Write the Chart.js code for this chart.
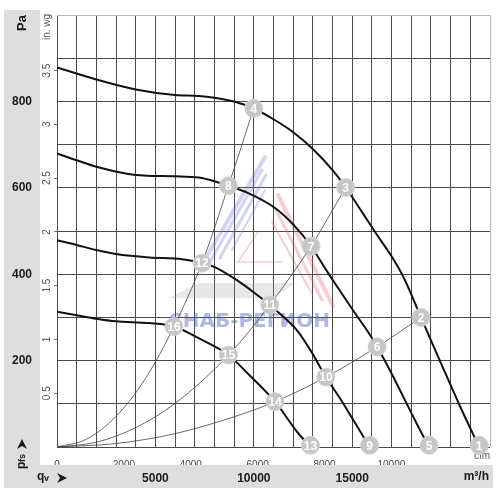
<!DOCTYPE html>
<html>
<head>
<meta charset="utf-8">
<script src="https://cdn.jsdelivr.net/npm/chart.js@4.4.0/dist/chart.umd.min.js"></script>
<style>
body { margin: 0; background: #fff; }
</style>
</head>
<body>
<canvas id="fanChart" width="500" height="500"></canvas>
<script>
// fan curves, air flow in m3/h and static pressure in Pa
var fan1Q = [0, 2000, 4000, 6000, 7200, 8000, 9000, 9995, 11000, 12000, 13000, 14000, 14668, 15600, 16264, 17019, 17608, 18494, 19500, 20500, 21450];
var fan1P = [879, 851, 828, 815, 813, 809, 800, 784, 759, 729, 690, 641, 601, 537, 491, 440, 393, 300, 195, 92, 0];
var fan2Q = [0, 1000, 2000, 4000, 6000, 7200, 8040, 8711, 9718, 11062, 12069, 12906, 13746, 14416, 15171, 15841, 16264, 16934, 17608, 18278, 18900];
var fan2P = [680, 664, 649, 630, 627, 624, 615, 605, 588, 554, 512, 465, 405, 359, 308, 264, 232, 176, 115, 54, 0];
var fan3Q = [0, 1000, 2000, 3000, 4683, 6360, 7367, 8040, 9214, 10055, 10810, 11732, 12236, 12906, 13662, 14416, 15087, 15880];
var fan3P = [479, 468, 456, 447, 439, 435, 426, 416, 384, 356, 329, 292, 268, 222, 162, 110, 60, 0];
var fan4Q = [0, 1000, 2000, 3000, 4683, 5942, 7200, 8711, 9718, 11077, 12236, 12880];
var fan4P = [313, 305, 297, 291, 287, 279, 252, 213, 169, 105, 33, 0];

// system curves through the origin
var sys1Q = [0, 1500, 3000, 4500, 5942, 7367, 8711, 9995];
var sys1P = [0, 18, 71, 159, 279, 426, 605, 784];
var sys2Q = [0, 2000, 4000, 6000, 8711, 10810, 12906, 14668];
var sys2P = [0, 11, 45, 101, 213, 329, 465, 601];
var sys3Q = [0, 3000, 6000, 9000, 11077, 13662, 16264, 18494];
var sys3P = [0, 8, 31, 70, 105, 162, 232, 300];

// numbered operating points
var markerNo = [1, 2, 3, 4, 5, 6, 7, 8, 9, 10, 11, 12, 13, 14, 15, 16];
var markerQ = [21450, 18494, 14668, 9995, 18900, 16264, 12906, 8711, 15880, 13662, 10810, 7367, 12880, 11077, 8711, 5942];
var markerP = [4, 300, 601, 784, 4, 232, 465, 605, 4, 162, 329, 426, 4, 105, 213, 279];

// axes
var paLabels = [200, 400, 600, 800];
var m3hLabels = [5000, 10000, 15000];
var cfmTicks = [0, 2000, 4000, 6000, 8000, 10000];
var inWgTicks = [0.5, 1, 1.5, 2, 2.5, 3, 3.5];

Chart.defaults.font.family = '"Liberation Sans", Arial, sans-serif';

function pts(qs, ps) {
	var out = [];
	for (var i = 0; i < qs.length; i++) {
		out.push({x: qs[i], y: ps[i]});
	}
	return out;
}

function fanLine(qs, ps) {
	return {data: pts(qs, ps), borderColor: '#111', borderWidth: 2, pointRadius: 0, cubicInterpolationMode: 'monotone', fill: false};
}

function sysLine(qs, ps) {
	return {data: pts(qs, ps), borderColor: '#444', borderWidth: 0.8, pointRadius: 0, cubicInterpolationMode: 'monotone', fill: false};
}

// draws a "➤" style arrowhead, tip at (x, y)
function arrowHead(ctx, x, y) {
	ctx.beginPath();
	ctx.moveTo(x, y);
	ctx.lineTo(x - 10, y - 5);
	ctx.lineTo(x - 7, y);
	ctx.lineTo(x - 10, y + 5);
	ctx.closePath();
	ctx.fill();
}

function stripe(ctx, x1, y1, x2, y2, w) {
	ctx.lineWidth = w;
	ctx.beginPath();
	ctx.moveTo(x1, y1);
	ctx.lineTo(x2, y2);
	ctx.stroke();
}

var decor = {
	id: 'decor',
	beforeDraw: function(chart) {
		var ctx = chart.ctx;
		ctx.save();
		ctx.fillStyle = '#fff';
		ctx.fillRect(0, 0, 500, 500);
		ctx.fillStyle = '#dedede';
		ctx.fillRect(4, 10, 489, 478);
		ctx.fillStyle = '#fff';
		ctx.fillRect(40, 0, 460, 465);
		ctx.restore();
	},
	beforeDatasetsDraw: function(chart) {
		var ctx = chart.ctx;
		ctx.save();
		// watermark logo
		ctx.lineCap = 'round';
		ctx.strokeStyle = 'rgba(100, 110, 210, 0.3)';
		stripe(ctx, 265, 157, 200, 268, 4);
		stripe(ctx, 262, 170, 210, 262, 3);
		stripe(ctx, 266, 175, 220, 258, 3);
		stripe(ctx, 265, 190, 232, 250, 2);
		ctx.strokeStyle = 'rgba(230, 90, 90, 0.3)';
		stripe(ctx, 278, 195, 333, 306, 4);
		stripe(ctx, 276, 210, 322, 300, 3);
		stripe(ctx, 272, 222, 312, 294, 2);
		stripe(ctx, 258, 232, 238, 262, 1.5);
		stripe(ctx, 238, 262, 282, 262, 1.5);
		ctx.fillStyle = 'rgba(160, 160, 160, 0.25)';
		ctx.beginPath();
		ctx.moveTo(168, 298); ctx.lineTo(200, 283); ctx.lineTo(296, 283); ctx.lineTo(272, 298);
		ctx.closePath(); ctx.fill();
		ctx.fillStyle = 'rgba(80, 95, 200, 0.45)';
		ctx.font = 'bold 20px "DejaVu Sans"';
		ctx.textAlign = 'left';
		ctx.textBaseline = 'middle';
		ctx.fillText('СНАБ-РЕГИОН', 168, 322, 162);
		// cfm unit, partly covered by point 1
		ctx.fillStyle = '#555';
		ctx.font = '10px "Liberation Sans"';
		ctx.textAlign = 'center';
		ctx.fillText('cfm', 482, 456);
		ctx.restore();
	},
	afterDatasetsDraw: function(chart) {
		var ctx = chart.ctx;
		var meta = chart.getDatasetMeta(0);
		ctx.save();
		ctx.fillStyle = '#fff';
		ctx.font = 'bold 12px "Liberation Sans"';
		ctx.textAlign = 'center';
		ctx.textBaseline = 'middle';
		meta.data.forEach(function(el, i) {
			ctx.fillText(String(markerNo[i]), el.x, el.y + 1);
		});
		ctx.restore();
	},
	afterDraw: function(chart) {
		var ctx = chart.ctx;
		var yw = chart.scales.yw;
		ctx.save();
		ctx.textBaseline = 'middle';
		ctx.textAlign = 'center';
		// in. wg labels, rotated
		ctx.fillStyle = '#555';
		ctx.font = '10px "Liberation Sans"';
		inWgTicks.forEach(function(v) {
			var y = yw.getPixelForValue(v);
			ctx.save();
			ctx.translate(47, y);
			ctx.rotate(-Math.PI / 2);
			ctx.fillText(String(v), 0, 0);
			ctx.restore();
		});
		ctx.save();
		ctx.translate(47, 27);
		ctx.rotate(-Math.PI / 2);
		ctx.fillText('in. wg', 0, 0);
		ctx.restore();
		// Pa title
		ctx.fillStyle = '#1a1a1a';
		ctx.font = 'bold 13px "Liberation Sans"';
		ctx.save();
		ctx.translate(22, 23);
		ctx.rotate(-Math.PI / 2);
		ctx.fillText('Pa', 0, 0);
		ctx.restore();
		// pfs with arrow
		ctx.save();
		ctx.translate(22, 469);
		ctx.rotate(-Math.PI / 2);
		ctx.textAlign = 'left';
		ctx.font = 'bold 12px "Liberation Sans"';
		ctx.fillText('p', 0, 0);
		ctx.font = 'bold 9px "Liberation Sans"';
		ctx.fillText('fs', 7, 1);
		arrowHead(ctx, 30, 0);
		ctx.restore();
		// qv with arrow
		ctx.textAlign = 'left';
		ctx.font = 'bold 12px "Liberation Sans"';
		ctx.fillText('q', 37, 477);
		ctx.font = 'bold 9px "Liberation Sans"';
		ctx.fillText('v', 44, 479);
		arrowHead(ctx, 67, 478);
		ctx.textAlign = 'right';
		ctx.font = 'bold 12px "Liberation Sans"';
		ctx.fillText('m³/h', 489, 477);
		ctx.restore();
	}
};

var ctx = document.getElementById('fanChart');

var chart = new Chart(ctx, {
	type: 'line',
	data: {
		datasets: [
			{
				data: pts(markerQ, markerP),
				showLine: false,
				pointRadius: 9,
				pointHoverRadius: 9,
				pointBackgroundColor: '#c6c6c6',
				pointBorderColor: '#d4d4d4',
				pointBorderWidth: 1,
				clip: false
			},
			fanLine(fan1Q, fan1P),
			fanLine(fan2Q, fan2P),
			fanLine(fan3Q, fan3P),
			fanLine(fan4Q, fan4P),
			sysLine(sys1Q, sys1P),
			sysLine(sys2Q, sys2P),
			sysLine(sys3Q, sys3P)
		]
	},
	options: {
		responsive: false,
		animation: false,
		layout: {padding: {top: 10, right: 6, left: 0, bottom: 0}},
		plugins: {legend: {display: false}, tooltip: {enabled: false}},
		scales: {
			x: {
				type: 'linear', position: 'bottom', weight: 2,
				min: 0, max: 22000,
				afterFit: function(s) { s.height = 35; },
				ticks: {
					stepSize: 1000, autoSkip: false, maxRotation: 0, padding: 6,
					color: '#1a1a1a', font: {size: 12, weight: 'bold'},
					callback: function(v) { return m3hLabels.indexOf(v) >= 0 ? String(v) : ''; }
				},
				grid: {
					drawTicks: false,
					color: function(c) { return c.tick && c.tick.value === 22000 ? '#b8b8b8' : '#4a4a4a'; }
				},
				border: {display: false}
			},
			xc: {
				type: 'linear', position: 'bottom', weight: 1,
				min: 0, max: 22000 / 1.699,
				afterFit: function(s) { s.height = 18; },
				afterBuildTicks: function(s) { s.ticks = cfmTicks.map(function(v) { return {value: v}; }); },
				ticks: {
					autoSkip: false, maxRotation: 0, padding: 4, color: '#444', font: {size: 10},
					callback: function(v) { return String(v); }
				},
				grid: {display: false},
				border: {display: false}
			},
			y: {
				type: 'linear', position: 'left', weight: 2,
				min: 0, max: 1000,
				afterFit: function(s) { s.width = 40; },
				ticks: {
					stepSize: 100, autoSkip: false, padding: 8, crossAlign: 'center',
					color: '#1a1a1a', font: {size: 12, weight: 'bold'},
					callback: function(v) { return paLabels.indexOf(v) >= 0 ? String(v) : ''; }
				},
				grid: {
					drawTicks: false,
					color: function(c) { return c.tick && c.tick.value === 1000 ? '#b8b8b8' : '#4a4a4a'; }
				},
				border: {display: false}
			},
			yw: {
				type: 'linear', position: 'left', weight: 1,
				min: 0, max: 1000 / 249.09,
				afterFit: function(s) { s.width = 17; },
				afterBuildTicks: function(s) { s.ticks = inWgTicks.map(function(v) { return {value: v}; }); },
				ticks: {display: false},
				grid: {drawOnChartArea: false, drawTicks: true, tickLength: 3, color: '#777'},
				border: {display: false}
			}
		}
	},
	plugins: [decor]
});
</script>
</body>
</html>
